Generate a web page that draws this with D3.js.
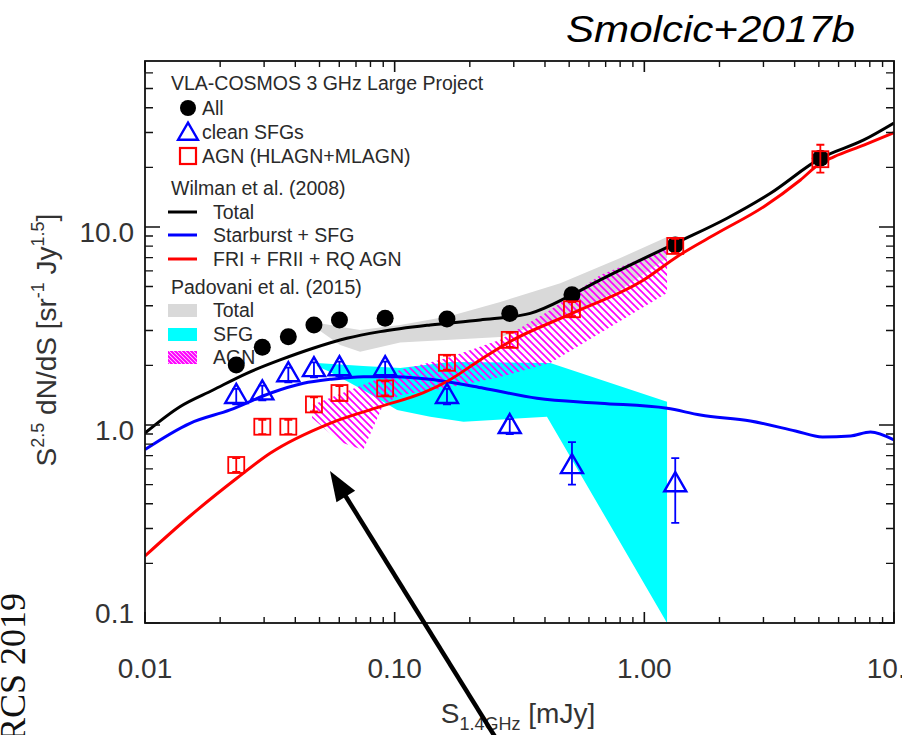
<!DOCTYPE html>
<html>
<head>
<meta charset="utf-8">
<script src="https://cdn.jsdelivr.net/npm/d3@7"></script>
<style>
  body { margin: 0; background: #fff; }
  svg { display: block; font-family: "Liberation Sans", Arial, Helvetica, sans-serif; }
</style>
</head>
<body>
<svg id="chart" width="902" height="735"></svg>
<script>
/* Source counts at 1.4 GHz: VLA-COSMOS 3 GHz points vs Wilman (2008) and Padovani (2015) models */

// flux bins [mJy] and Euclidean-normalised counts S^2.5 dN/dS
const fluxBins  = [0.0232, 0.0295, 0.0375, 0.0475, 0.0601, 0.0916, 0.162, 0.289, 0.513, 1.33, 5.07];
const allCounts = [2.01, 2.47, 2.79, 3.20, 3.39, 3.46, 3.43, 3.66, 4.54, 8.11, 22.2];
const sfgCounts = [1.39, 1.45, 1.79, 1.90, 1.92, 1.92, 1.39, 0.98, 0.615, 0.498];
const sfgLo     = [1.27, 1.33, 1.64, 1.74, 1.76, 1.76, 1.27, 0.90, 0.50, 0.32];
const sfgHi     = [1.52, 1.58, 1.95, 2.07, 2.09, 2.09, 1.52, 1.07, 0.82, 0.68];
const agnCounts = [0.628, 0.98, 0.98, 1.27, 1.45, 1.53, 2.06, 2.69, 3.84, 8.02, 21.98];
const agnLo     = [0.58, 0.90, 0.90, 1.17, 1.33, 1.41, 1.90, 2.48, 3.54, 7.40, 18.8];
const agnHi     = [0.68, 1.06, 1.06, 1.38, 1.57, 1.66, 2.24, 2.92, 4.17, 8.70, 26.0];

// Wilman et al. (2008) model curves [flux, counts]
const wilmanTotal = [[0.01,0.911],[0.0138,1.237],[0.01874,1.502],[0.02557,1.824],[0.03475,2.13],
  [0.04713,2.44],[0.0643,2.74],[0.0875,2.96],[0.1388,3.20],[0.220,3.39],[0.349,3.66],[0.513,4.54],
  [0.666,5.40],[1.331,8.27],[2.145,11.07],[3.20,14.8],[5.07,22.2],[7.57,27.5],[10,33.5]];
const wilmanSFG = [[0.01,0.752],[0.01515,1.02],[0.02192,1.191],[0.0317,1.446],[0.04311,1.624],
  [0.0551,1.70],[0.075,1.754],[0.102,1.754],[0.1388,1.70],[0.1619,1.655],[0.227,1.533],
  [0.3715,1.364],[0.666,1.287],[1.233,1.214],[1.677,1.123],[2.66,1.047],[4.03,0.933],
  [5.17,0.870],[6.69,0.880],[8.05,0.922],[10,0.840]];
const wilmanAGN = [[0.01,0.218],[0.01515,0.347],[0.02331,0.538],[0.0317,0.720],[0.0551,1.02],
  [0.0875,1.237],[0.1305,1.456],[0.1619,1.658],[0.220,2.13],[0.290,2.64],[0.513,3.66],
  [0.993,5.40],[1.352,7.08],[1.956,9.29],[3.01,12.66],[4.22,17.27],[5.07,20.97],[5.74,22.6],
  [7.57,25.9],[10,29.9]];

// Padovani et al. (2015) model ranges, as closed outlines [flux, counts]
const padTotal = [[0.0471,3.31],[0.0605,3.13],[0.0727,3.02],[0.1052,3.20],[0.1669,3.55],[0.2648,4.18],
  [0.4607,5.20],[0.8013,6.97],[1.233,8.90],[1.233,6.97],[0.8013,4.81],[0.4607,3.47],[0.2648,2.78],
  [0.1669,2.69],[0.1052,2.61],[0.0727,2.34],[0.0605,2.535],[0.0471,3.16]];
const padSFG = [[0.04878,2.056],[0.0748,1.986],[0.1052,1.941],[0.1669,2.08],[0.4201,2.056],[1.233,1.311],
  [1.233,0.1],[0.4074,1.101],[0.1887,1.039],[0.1388,1.101],[0.1023,1.191],[0.0748,1.502],
  [0.0551,1.853],[0.04878,1.986]];
const padAGN = [[0.0467,1.262],[0.0727,1.574],[0.1052,1.896],[0.1623,2.18],[0.2648,2.69],[0.4201,3.81],
  [0.666,5.72],[1.233,7.83],[1.233,4.64],[0.666,2.915],[0.4201,2.056],[0.2648,1.748],[0.1623,1.538],
  [0.1052,1.417],[0.0899,1.262],[0.0748,0.748],[0.0605,0.821],[0.0467,1.085]];

const xTickVals = [0.01, 0.1, 1, 10];
const xTickText = ["0.01", "0.10", "1.00", "10.0"];
const yTickVals = [0.1, 1, 10];
const yTickText = ["0.1", "1.0", "10.0"];

const svg = d3.select("#chart");
const L = 145, R = 894, T = 61, B = 623;
const x = d3.scaleLog().domain([0.01, 10]).range([L, R]);
const y = d3.scaleLog().domain([0.1, Math.pow(10, 1.838)]).range([B, T]);

// hatch for the AGN band (and a denser one for its legend swatch)
const defs = svg.append("defs");
function hatch(id, step, w){
  defs.append("pattern").attr("id", id).attr("patternUnits", "userSpaceOnUse")
      .attr("width", step).attr("height", step)
    .append("path").attr("d", `M-1,-1 L${step+1},${step+1} M${-step-1},-1 L1,${step+1} M${step-1},-1 L${2*step+1},${step+1}`)
      .attr("stroke", "#ff00ff").attr("stroke-width", w);
}
hatch("hatch", 7, 1.7);
hatch("hatchLeg", 4, 2.2);
defs.append("clipPath").attr("id", "plotclip").append("rect")
    .attr("x", L).attr("y", T).attr("width", R - L).attr("height", B - T);

const plot = svg.append("g").attr("clip-path", "url(#plotclip)");
const poly = d3.line().x(d => x(d[0])).y(d => y(d[1]));
const curve = d3.line().x(d => x(d[0])).y(d => y(d[1])).curve(d3.curveMonotoneX);

// model bands
plot.append("path").attr("d", poly(padTotal) + "Z").attr("fill", "#d9d9d9");
plot.append("path").attr("d", poly(padSFG) + "Z").attr("fill", "#00ffff");
plot.append("path").attr("d", poly(padAGN) + "Z").attr("fill", "url(#hatch)");

// legend (drawn before the data so markers sit on top)
const leg = svg.append("g").attr("font-size", 19.5).attr("fill", "#2a2a2a");
leg.append("text").attr("x", 171).attr("y", 90).text("VLA-COSMOS 3 GHz Large Project");
leg.append("circle").attr("cx", 188).attr("cy", 108).attr("r", 8).attr("fill", "#000");
leg.append("text").attr("x", 202).attr("y", 115).text("All");
leg.append("path").attr("d", d3.symbol(d3.symbolTriangle, 170)()).attr("transform", "translate(188,134)")
    .attr("fill", "none").attr("stroke", "#0000ff").attr("stroke-width", 2.4);
leg.append("text").attr("x", 202).attr("y", 139).text("clean SFGs");
leg.append("rect").attr("x", 180).attr("y", 148).attr("width", 16).attr("height", 16)
    .attr("fill", "none").attr("stroke", "#ff0000").attr("stroke-width", 2.2);
leg.append("text").attr("x", 202).attr("y", 163).text("AGN (HLAGN+MLAGN)");
leg.append("text").attr("x", 171).attr("y", 195).text("Wilman et al. (2008)");
[["Total", "#000", 212], ["Starburst + SFG", "#0000ff", 235], ["FRI + FRII + RQ AGN", "#ff0000", 259]]
  .forEach(([t, c, yy]) => {
    leg.append("line").attr("x1", 168).attr("x2", 197).attr("y1", yy).attr("y2", yy)
        .attr("stroke", c).attr("stroke-width", 3);
    leg.append("text").attr("x", 213).attr("y", yy + 7).text(t);
  });
leg.append("text").attr("x", 171).attr("y", 294).text("Padovani et al. (2015)");
[["Total", "#d9d9d9", 310], ["SFG", "#00ffff", 334], ["AGN", "url(#hatchLeg)", 357]]
  .forEach(([t, c, yy]) => {
    leg.append("rect").attr("x", 168).attr("y", yy - 6).attr("width", 29).attr("height", 13).attr("fill", c);
    leg.append("text").attr("x", 213).attr("y", yy + 7).text(t);
  });

// model curves
plot.append("path").attr("d", curve(wilmanTotal)).attr("fill", "none").attr("stroke", "#000").attr("stroke-width", 3);
plot.append("path").attr("d", curve(wilmanSFG)).attr("fill", "none").attr("stroke", "#0000ff").attr("stroke-width", 3);
plot.append("path").attr("d", curve(wilmanAGN)).attr("fill", "none").attr("stroke", "#ff0000").attr("stroke-width", 3);

// data points
function errBar(g, xv, lo, hi, color){
  g.append("path").attr("fill", "none").attr("stroke", color).attr("stroke-width", 1.8)
    .attr("d", `M${x(xv)},${y(lo)}V${y(hi)}M${x(xv)-4},${y(lo)}h8M${x(xv)-4},${y(hi)}h8`);
}
const pts = svg.append("g");
fluxBins.forEach((f, i) => {
  pts.append("circle").attr("cx", x(f)).attr("cy", y(allCounts[i])).attr("r", 8.5).attr("fill", "#000");
});
sfgCounts.forEach((v, i) => {
  errBar(pts, fluxBins[i], sfgLo[i], sfgHi[i], "#0000ff");
  pts.append("path").attr("d", d3.symbol(d3.symbolTriangle, 210)())
      .attr("transform", `translate(${x(fluxBins[i])},${y(v)})`)
      .attr("fill", "none").attr("stroke", "#0000ff").attr("stroke-width", 2.4);
});
agnCounts.forEach((v, i) => {
  errBar(pts, fluxBins[i], agnLo[i], agnHi[i], "#ff0000");
  pts.append("rect").attr("x", x(fluxBins[i]) - 8).attr("y", y(v) - 8).attr("width", 16).attr("height", 16)
      .attr("fill", "none").attr("stroke", "#ff0000").attr("stroke-width", 1.8);
});

// frame and ticks (inward, on all four sides)
const ax = svg.append("g").attr("stroke", "#111").attr("fill", "none");
ax.append("rect").attr("x", L).attr("y", T).attr("width", R - L).attr("height", B - T).attr("stroke-width", 1.8);
const minor = (lo, hi) => d3.range(Math.log10(lo), Math.log10(hi)).flatMap(e => d3.range(2, 10).map(k => k * Math.pow(10, e)));
const xMinor = minor(0.01, 10);
const yMinor = minor(0.1, 100).filter(v => y(v) > T);
xTickVals.forEach(v => ax.append("path").attr("stroke-width", 1.6).attr("d", `M${x(v)},${B}v-11M${x(v)},${T}v11`));
xMinor.forEach(v => ax.append("path").attr("stroke-width", 1.4).attr("d", `M${x(v)},${B}v-6M${x(v)},${T}v6`));
yTickVals.forEach(v => ax.append("path").attr("stroke-width", 1.6).attr("d", `M${L},${y(v)}h15M${R},${y(v)}h-15`));
yMinor.forEach(v => ax.append("path").attr("stroke-width", 1.4).attr("d", `M${L},${y(v)}h8M${R},${y(v)}h-8`));

const lab = svg.append("g").attr("font-size", 28).attr("fill", "#333");
xTickVals.forEach((v, i) => lab.append("text").attr("x", x(v)).attr("y", 678)
    .attr("text-anchor", "middle").text(xTickText[i]));
yTickVals.forEach((v, i) => lab.append("text").attr("x", 134).attr("y", Math.min(y(v) + 15, 623))
    .attr("text-anchor", "end").text(yTickText[i]));

// axis titles
const xt = svg.append("text").attr("x", 518).attr("y", 723).attr("text-anchor", "middle")
    .attr("font-size", 28).attr("fill", "#333");
xt.append("tspan").text("S");
xt.append("tspan").attr("font-size", 18).attr("dy", 7).text("1.4GHz");
xt.append("tspan").attr("dy", -7).text(" [mJy]");

const yt = svg.append("text").attr("transform", "translate(56,340) rotate(-90)").attr("text-anchor", "middle")
    .attr("font-size", 28).attr("fill", "#333");
yt.append("tspan").text("S");
yt.append("tspan").attr("font-size", 18).attr("dy", -12).text("2.5");
yt.append("tspan").attr("dy", 12).text(" dN/dS  [sr");
yt.append("tspan").attr("font-size", 18).attr("dy", -12).text("-1");
yt.append("tspan").attr("dy", 12).text(" Jy");
yt.append("tspan").attr("font-size", 18).attr("dy", -12).text("1.5");
yt.append("tspan").attr("dy", 12).text("]");

// title and side note
svg.append("text").attr("x", 566).attr("y", 42).attr("font-size", 37).attr("font-style", "italic")
    .attr("textLength", 289).attr("lengthAdjust", "spacingAndGlyphs").attr("fill", "#000").text("Smolcic+2017b");
svg.append("text").attr("transform", "translate(25,593) rotate(-90)").attr("font-size", 36)
    .attr("font-family", "'Liberation Serif', 'Times New Roman', serif").attr("text-anchor", "end")
    .attr("fill", "#111").text("RCS 2019");

// annotation arrow
const tip = [330, 471], tail = [497, 740];
const ang = Math.atan2(tail[1] - tip[1], tail[0] - tip[0]);
svg.append("line").attr("x1", tail[0]).attr("y1", tail[1])
    .attr("x2", tip[0] + 20 * Math.cos(ang)).attr("y2", tip[1] + 20 * Math.sin(ang))
    .attr("stroke", "#000").attr("stroke-width", 4.5);
const hl = 30, hw = 11;
const bx = tip[0] + hl * Math.cos(ang), by = tip[1] + hl * Math.sin(ang);
svg.append("path").attr("fill", "#000").attr("d",
  `M${tip[0]},${tip[1]}L${bx - hw * Math.sin(ang)},${by + hw * Math.cos(ang)}L${bx + hw * Math.sin(ang)},${by - hw * Math.cos(ang)}Z`);
</script>
</body>
</html>
